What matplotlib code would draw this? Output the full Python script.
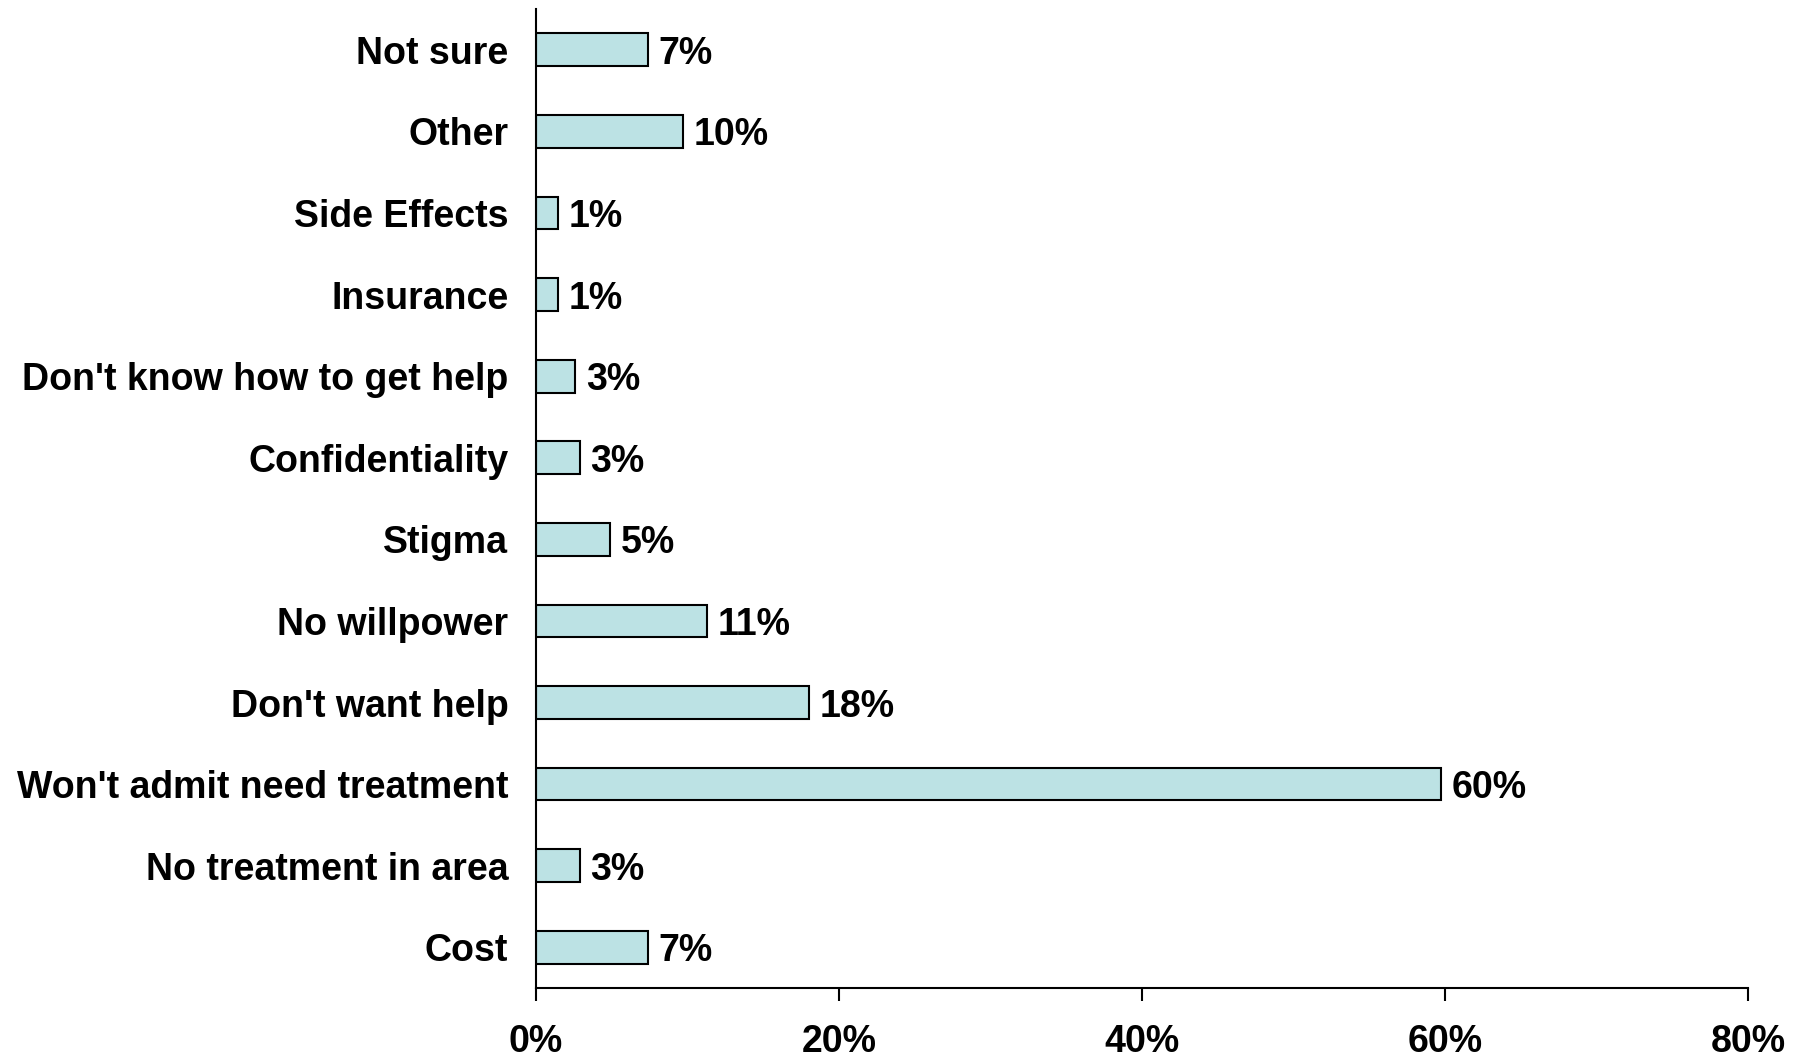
import matplotlib.pyplot as plt
from matplotlib.ticker import FuncFormatter

# reasons, bottom to top as drawn
reasons = ['Cost', 'No treatment in area', "Won't admit need treatment", "Don't want help",
           'No willpower', 'Stigma', 'Confidentiality', "Don't know how to get help",
           'Insurance', 'Side Effects', 'Other', 'Not sure']
# percent of respondents (bar lengths)
pct = [7.4, 2.9, 59.7, 18.0, 11.3, 4.9, 2.9, 2.6, 1.45, 1.45, 9.7, 7.4]
xticks = [0, 20, 40, 60, 80]

plt.rcParams['font.family'] = ['Liberation Sans', 'DejaVu Sans']
plt.rcParams['font.weight'] = 'bold'

fig = plt.figure(figsize=(18.08, 10.58), dpi=100)
ax = fig.add_axes([0.2965, 0.066, 0.6705, 0.9255])

ypos = range(len(reasons))
ax.barh(ypos, pct, height=0.4, color='#bce2e4', edgecolor='black', linewidth=1.5)

for y, v in zip(ypos, pct):
    ax.text(v + 0.7, y, f'{v:.0f}%', va='center_baseline', ha='left', fontsize=27, fontweight='bold')

ax.set_xlim(0, 80)
ax.set_ylim(-0.5, len(reasons) - 0.5)
ax.set_xticks(xticks)
ax.xaxis.set_major_formatter(FuncFormatter(lambda v, p: f'{v:.0f}%'))
ax.set_yticks(list(ypos))
ax.set_yticklabels(reasons)

ax.spines['top'].set_visible(False)
ax.spines['right'].set_visible(False)
ax.spines['left'].set_linewidth(1.5)
ax.spines['bottom'].set_linewidth(1.5)
ax.tick_params(axis='x', direction='out', length=9, width=1.5, pad=17, labelsize=27)
ax.tick_params(axis='y', length=0, pad=20, labelsize=27)

fig.savefig('out.png', dpi=100)
